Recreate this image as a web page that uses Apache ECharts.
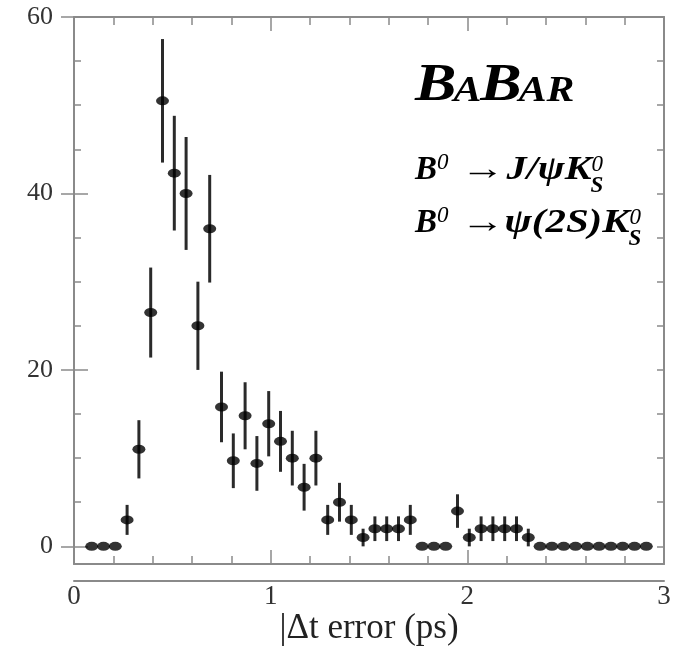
<!DOCTYPE html>
<html><head><meta charset="utf-8">
<script src="https://cdn.jsdelivr.net/npm/echarts@6/dist/echarts.min.js"></script>
<style>html,body{margin:0;padding:0;background:#fff}#c{width:679px;height:649px}</style>
</head><body><div id="c"></div>
<script>
// ---- data ----
const binCenters = [0.09,0.15,0.21,0.27,0.33,0.39,0.45,0.51,0.57,0.63,
  0.69,0.75,0.81,0.87,0.93,0.99,1.05,1.11,1.17,1.23,
  1.29,1.35,1.41,1.47,1.53,1.59,1.65,1.71,1.77,1.83,
  1.89,1.95,2.01,2.07,2.13,2.19,2.25,2.31,2.37,2.43,
  2.49,2.55,2.61,2.67,2.73,2.79,2.85,2.91];
const counts = [0,0,0,3,11,26.5,50.5,42.3,40,25,
  36,15.8,9.7,14.8,9.4,13.9,11.9,10,6.7,10,
  3,5,3,1,2,2,2,3,0,0,
  0,4,1,2,2,2,2,1,0,0,
  0,0,0,0,0,0,0,0];
const errors = [0,0,0,1.7,3.3,5.1,7,6.5,6.4,5,
  6.1,4,3.1,3.8,3.1,3.7,3.45,3.1,2.65,3.1,
  1.7,2.2,1.7,1,1.4,1.4,1.4,1.7,0,0,
  0,1.9,1,1.4,1.4,1.4,1.4,1,0,0,
  0,0,0,0,0,0,0,0];
const xTickLabels = [0,1,2,3];
const yTickLabels = [0,20,40,60];
const yMinorTicks = [0,5,10,15,20,25,30,35,40,45,50,55,60];
const xName = '|\u0394t error (ps)';

const FAM = '"Liberation Serif","DejaVu Serif",serif';
const frame = '#8a8a8a';
const chart = echarts.init(document.getElementById('c'), null, {renderer:'canvas'});

const boxX = (pos) => ({
  gridIndex:0, type:'value', min:0, max:3, interval:1, position:pos,
  axisLine:{show:true, onZero:false, lineStyle:{color:frame, width:2}},
  axisTick:{show:true, inside:true, length:14, lineStyle:{color:frame, width:1.5}},
  minorTick:{show:true, splitNumber:5, length:8, lineStyle:{color:frame, width:1.5}},
  axisLabel:{show:false}, splitLine:{show:false}, minorSplitLine:{show:false}
});
const minY = (pos, showLabel) => ({
  gridIndex:0, type:'value', min:-2, max:60, position:pos,
  axisLine:{show:true, onZero:false, lineStyle:{color:frame, width:2}},
  axisTick:{show:true, inside:true, length:7, customValues:yMinorTicks, lineStyle:{color:frame, width:1.5}},
  axisLabel:{show:showLabel, customValues:yTickLabels, margin:21, fontFamily:FAM, fontSize:26, color:'#333'},
  splitLine:{show:false}
});
const majY = (pos, len) => ({
  gridIndex:0, type:'value', min:-2, max:60, position:pos,
  axisLine:{show:false},
  axisTick:{show:true, inside:true, length:len, customValues:yTickLabels, lineStyle:{color:frame, width:1.5}},
  axisLabel:{show:false}, splitLine:{show:false}
});

// ---- text layout helpers (annotations) ----
const mctx = document.createElement('canvas').getContext('2d');
function fontStr(p){ return (p.it?'italic ':'') + (p.bd?'bold ':'') + p.f + 'px ' + FAM; }
function measure(p){ mctx.font = fontStr(p); return mctx.measureText(p.t).width; }
const K = 0.3;
function layout(x0, baseline, pieces, gsx){
  gsx = gsx || 1;
  const out = []; let x = x0;
  pieces.forEach(p => {
    const list = p.stack ? p.stack : [p];
    let w = 0;
    list.forEach(q => {
      const nat = measure(q);
      const sx = (q.tw ? q.tw / nat : 1) * gsx;
      out.push({type:'text', x: x + (q.dx||0), y: baseline + (q.dy||0) - K*q.f, scaleX: sx,
        style:{text:q.t, font:fontStr(q), fill:'#000', textAlign:'left', textVerticalAlign:'middle'}});
      w = Math.max(w, nat*sx + (q.dx||0));
    });
    x += w + (p.gap||0);
  });
  return out;
}
const big = 52, sm = 35, F = 33, S = 23;
const babar = [
  {t:'B', f:big, it:1, bd:1, gap:-3},
  {t:'A', f:sm, it:1, bd:1, gap:-1},
  {t:'B', f:big, it:1, bd:1, gap:-3},
  {t:'AR', f:sm, it:1, bd:1}
];
let natW = babar.reduce((s,p)=>s+measure(p)+(p.gap||0),0);
const graphics = [].concat(
  layout(415, 102, babar, 158/natW),
  layout(415, 180, [
    {t:'B', f:F, it:1, bd:1},
    {t:'0', f:S, it:1, dy:-10, gap:12},
    {t:'\u2192', f:F, tw:44, gap:2},
    {t:'J/\u03C8K', f:F, it:1, bd:1, tw:85},
    {stack:[{t:'0', f:S, it:1, dy:-8}, {t:'S', f:S, it:1, bd:1, dy:13, dx:-1}]}
  ]),
  layout(415, 233, [
    {t:'B', f:F, it:1, bd:1},
    {t:'0', f:S, it:1, dy:-10, gap:12},
    {t:'\u2192', f:F, tw:44, gap:0},
    {t:'\u03C8(2S)K', f:F, it:1, bd:1, tw:125},
    {stack:[{t:'0', f:S, it:1, dy:-8}, {t:'S', f:S, it:1, bd:1, dy:13, dx:-1}]}
  ])
);

const option = {
  animation:false,
  backgroundColor:'#fff',
  grid:[
    {left:74, right:15, top:17, bottom:85},
    {left:74, right:15, top:571, bottom:68}
  ],
  xAxis:[ boxX('bottom'), boxX('top'),
    { gridIndex:1, type:'value', min:0, max:3, interval:1, position:'bottom',
      axisLine:{show:true, onZero:false, lineStyle:{color:frame, width:2}},
      axisTick:{show:false},
      axisLabel:{show:true, margin:2, fontFamily:FAM, fontSize:27, color:'#333',
        customValues:xTickLabels},
      splitLine:{show:false},
      name:xName, nameLocation:'middle', nameGap:30,
      nameTextStyle:{fontFamily:FAM, fontSize:35, color:'#222', verticalAlign:'top'} }
  ],
  yAxis:[ minY('left', true), majY('left', 14), minY('right', false), majY('right', 13),
    { gridIndex:1, type:'value', show:false, min:0, max:1 }
  ],
  series:[
    { type:'custom', xAxisIndex:0, yAxisIndex:0,
      data: binCenters.map((x,i)=>[x, counts[i], errors[i]]),
      renderItem:(params, api)=>{
        const x=api.value(0), y=api.value(1), e=api.value(2);
        if(!(e>0)) return {type:'group', children:[]};
        const t=api.coord([x,y+e]), b=api.coord([x,y-e]);
        return {type:'line', shape:{x1:t[0], y1:t[1], x2:b[0], y2:b[1]},
          style:{stroke:'#2a2a2a', lineWidth:3}};
      },
      z:2
    },
    { type:'scatter', xAxisIndex:0, yAxisIndex:0,
      data: binCenters.map((x,i)=>[x, counts[i]]),
      symbol:'circle', symbolSize:[13,9],
      itemStyle:{color:'#000'}, z:3
    }
  ],
  graphic: graphics
};
chart.setOption(option);
</script>
</body></html>
